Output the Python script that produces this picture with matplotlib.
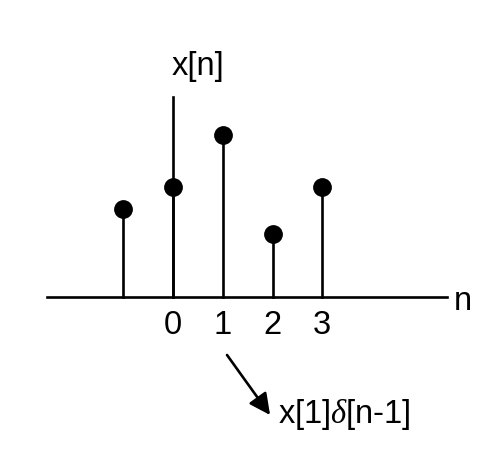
import matplotlib
matplotlib.use("Agg")
import matplotlib.pyplot as plt

# sample indices and amplitudes of x[n]
n_vals = [-1, 0, 1, 2, 3]
x_vals = [1.76, 2.2, 3.24, 1.26, 2.2]
tick_vals = [0, 1, 2, 3]
tick_labels = ["0", "1", "2", "3"]

plt.rcParams['font.family'] = ['Liberation Sans', 'DejaVu Sans']
plt.rcParams['mathtext.fontset'] = 'custom'
plt.rcParams['mathtext.rm'] = 'Liberation Sans'
plt.rcParams['mathtext.it'] = 'Liberation Serif:italic'

fig = plt.figure(figsize=(4.96, 4.58), dpi=100)
ax = fig.add_axes([0, 0, 1, 1])
ax.set_xlim(-3.477, 6.49)
ax.set_ylim(-3.22, 5.94)
ax.axis('off')

lw = 1.9

# axes
ax.plot([-2.53, 5.51], [0, 0], color='black', lw=lw)
ax.plot([0, 0], [0, 4.0], color='black', lw=lw)

# stems
for n, v in zip(n_vals, x_vals):
    ax.plot([n, n], [0, v], color='black', lw=lw)
ax.plot(n_vals, x_vals, 'o', color='black', markersize=12.5, zorder=3)

fs = 23.5
for t, lab in zip(tick_vals, tick_labels):
    ax.text(t, -0.56, lab, ha='center', va='center', fontsize=fs)
ax.text(5.83, -0.08, "n", ha='center', va='center', fontsize=fs)
ax.text(0.5, 4.6, "x[n]", ha='center', va='center', fontsize=fs)

# arrow to the shifted impulse term
ax.annotate("", xy=(1.95, -2.36), xytext=(1.085, -1.16),
            arrowprops=dict(arrowstyle='-|>', color='black', lw=lw,
                            mutation_scale=32, shrinkA=0, shrinkB=0))
ax.text(2.11, -2.36, r"x[1]$\delta$[n-1]", ha='left', va='center', fontsize=fs)

fig.savefig("out.png", dpi=100)
